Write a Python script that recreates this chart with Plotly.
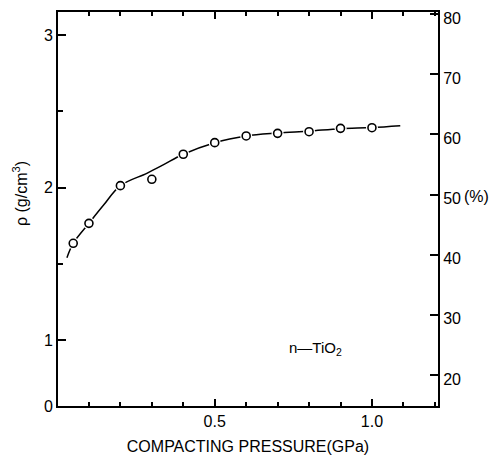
import plotly.graph_objects as go

# measured data points (compacting pressure GPa, density g/cm3)
pressure = [0.05, 0.1, 0.2, 0.3, 0.4, 0.5, 0.6, 0.7, 0.8, 0.9, 1.0]
density = [1.634, 1.765, 2.012, 2.054, 2.218, 2.294, 2.338, 2.355, 2.366, 2.388, 2.392]

# fitted curve knots
curve_p = [0.03, 0.05, 0.1, 0.146, 0.2, 0.284, 0.336, 0.4, 0.5, 0.6, 0.7, 0.8, 0.9, 1.0, 1.09]
curve_rho = [1.54, 1.634, 1.765, 1.883, 2.012, 2.093, 2.148, 2.218, 2.294, 2.338, 2.357,
             2.37, 2.386, 2.393, 2.405]

left_tickvals = [0.567, 1, 2, 3]
left_ticktext = ["0", "1", "2", "3"]
right_tickvals = [20, 30, 40, 50, 60, 70, 80]
right_ticktext = ["20", "30", "40", "50", "60", "70", "80"]
x_tickvals = [0.5, 1.0]
x_ticktext = ["0.5", "1.0"]

FONT = "Liberation Sans, Arial, Helvetica, sans-serif"

fig = go.Figure()
fig.add_trace(go.Scatter(x=curve_p, y=curve_rho, mode="lines",
                         line=dict(color="black", width=1.5, shape="spline", smoothing=1.0),
                         showlegend=False, hoverinfo="skip"))
# white halo behind markers (gap in line)
fig.add_trace(go.Scatter(x=pressure, y=density, mode="markers",
                         marker=dict(symbol="circle", size=12, color="white", line=dict(width=0)),
                         showlegend=False, hoverinfo="skip"))
fig.add_trace(go.Scatter(x=pressure, y=density, mode="markers",
                         marker=dict(symbol="circle", size=8, color="white",
                                     line=dict(color="black", width=1.6)),
                         showlegend=False))
fig.add_trace(go.Scatter(x=[None], y=[None], yaxis="y2", showlegend=False, hoverinfo="skip"))

fig.update_layout(
    width=489, height=447,
    margin=dict(l=50, r=59, t=4, b=49),
    paper_bgcolor="white", plot_bgcolor="white",
    font=dict(family=FONT, size=16, color="black"),
    xaxis=dict(range=[0.0016, 1.21], showline=True, linecolor="black", linewidth=2,
               mirror="ticks", ticks="inside", ticklen=7, tickwidth=1.5, tickcolor="black",
               tickvals=x_tickvals, ticktext=x_ticktext, showgrid=False, zeroline=False,
               automargin=False, ticklabeloverflow="allow",
               minor=dict(dtick=0.1, tick0=0, ticks="inside", ticklen=4, tickwidth=1.5,
                          tickcolor="black", showgrid=False),
               title=dict(text="COMPACTING PRESSURE(GPa)", font=dict(family=FONT, size=16))),
    yaxis=dict(range=[0.567, 3.151], showline=True, linecolor="black", linewidth=2,
               ticks="inside", ticklen=8, tickwidth=1.5, tickcolor="black", automargin=False,
               ticklabeloverflow="allow",
               tickvals=left_tickvals, ticktext=left_ticktext, showgrid=False, zeroline=False,
               minor=dict(tickvals=[1.5, 2.5], ticks="inside", ticklen=5, tickwidth=1.5,
                          tickcolor="black", showgrid=False)),
    yaxis2=dict(range=[14.85, 80.33], overlaying="y", side="right", anchor="x",
                showline=True, linecolor="black", linewidth=2, automargin=False,
                ticklabeloverflow="allow", ticklabelshift=4,
                ticks="inside", ticklen=8, tickwidth=1.5, tickcolor="black",
                tickvals=right_tickvals, ticktext=right_ticktext, showgrid=False, zeroline=False),
    annotations=[
        dict(text="ρ (g/cm<sup>3</sup>)", xref="paper", yref="paper", x=-0.1, y=0.538,
             xanchor="center", yanchor="middle",
             textangle=-90, showarrow=False, font=dict(family=FONT, size=16)),
        dict(text="(%)", xref="paper", yref="y2", x=1.102, y=50, showarrow=False, yshift=-2,
             xanchor="center", yanchor="middle", font=dict(family=FONT, size=16)),
        dict(text="n—TiO<sub>2</sub>", xref="x", yref="y", x=0.822, y=0.941, showarrow=False,
             xanchor="center", yanchor="middle", font=dict(family=FONT, size=15)),
    ],
)

fig.write_html("out.html")
